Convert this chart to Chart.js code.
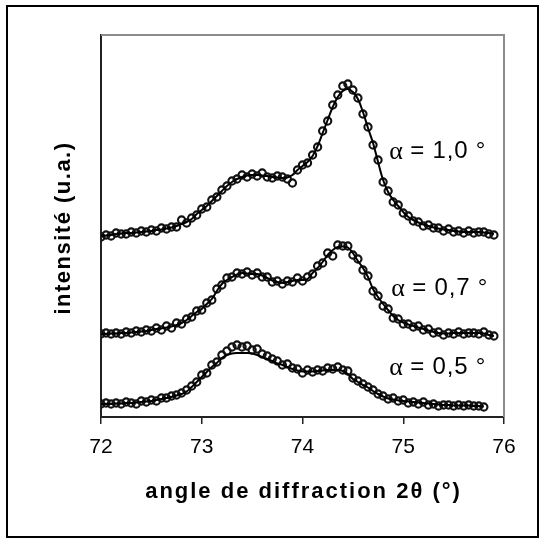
<!DOCTYPE html>
<html>
<head>
<meta charset="utf-8">
<script src="https://cdn.jsdelivr.net/npm/chart.js@4/dist/chart.umd.min.js"></script>
<style>
html,body{margin:0;padding:0;background:#fff;}
canvas{display:block;}
</style>
</head>
<body>
<canvas id="c" width="545" height="549"></canvas>
<script>
// ---- data ----
const xAngles = [72.00,72.05,72.10,72.15,72.20,72.25,72.30,72.35,72.40,72.45,
72.50,72.55,72.60,72.65,72.70,72.75,72.80,72.85,72.90,72.95,
73.00,73.05,73.10,73.15,73.20,73.25,73.30,73.35,73.40,73.45,
73.50,73.55,73.60,73.65,73.70,73.75,73.80,73.85,73.90,73.95,
74.00,74.05,74.10,74.15,74.20,74.25,74.30,74.35,74.40,74.45,
74.50,74.55,74.60,74.65,74.70,74.75,74.80,74.85,74.90,74.95,
75.00,75.05,75.10,75.15,75.20,75.25,75.30,75.35,75.40,75.45,
75.50,75.55,75.60,75.65,75.70,75.75,75.80,75.85,75.90];

const xTicks = [72, 73, 74, 75, 76];

// alpha = 1.0
const fit10 = [181,181.5,182,183,183.5,184,184,184.5,185,185.5,
186,187,187.5,188.5,189.5,191,193,195,198,203,
207,211,216,221,226,231,235,238,240,241.5,
242,242,241.5,241,240,239.5,239,239.5,242,247,
251,255,261,271,284,297,310,320,326,328,
325,318,305,289,274,255,237,225,217,211,
205,200,197,194.5,192.5,191,189.5,188.5,187.5,187,
186,185.5,185,185,185,185,184.5,184,183];
const pts10 = [180,182,181,184,183,183,185,184,186,185,
187,186,189,188,190,190,197,194,199,202,
208,210,217,220,227,231,236,238,242,240,
243,241,244,240,239,241,240,238,234,247,
252,254,262,270,286,296,312,322,331,333,
327,319,303,290,272,257,235,226,215,212,
204,201,196,195,191,192,189,189,186,188,
185,186,184,186,184,185,185,183,182];

// alpha = 0.7
const fit07 = [83,83,83.5,83.5,84,84,84.5,85,85.5,86,
87,88,88.5,89.5,90.5,92,94,97,101,105,
108,113,118,126,133,137,140,142.5,144,143.5,
143,143,141.5,139,136.5,135,134,135,136,137,
137,138,144,149,155,162,167,170,170.5,169.5,
164,156,149,140,128,120,113,107,101,97,
94.5,92.5,91,89.5,88,86.5,85,84,83.5,83.5,
84,84,84,84,84,84,83.5,82,81];
const pts07 = [83,84,83,84,83,85,84,86,85,87,
86,89,87,91,89,94,93,98,100,106,
107,114,117,128,132,139,140,144,143,145,
142,144,140,140,135,136,133,136,135,139,
136,140,143,151,154,164,161,172,171,171,
162,158,147,141,126,121,111,108,99,98,
93,93,90,91,87,88,84,85,82,84,
83,85,83,84,84,83,85,82,81];

// alpha = 0.5 (stops at 75.80)
const fit05 = [13,13,13,13.5,13.5,14,14,14.5,15,15.5,
16,17,18,19,20,21.5,23,25.5,30,35,
40,45,50,54,59,62,63.5,64,64,64,
63.5,62,60,58,56,53.5,52,50,48,46.5,
45.5,45.5,45.5,46,46.5,47,47,47,46,43,
38,35,32,29.5,26,23,20.5,18.5,17.5,16.5,
16,15.5,15,14.5,14,13.5,13,12.5,12,12,
11.5,11.5,11.5,11.5,11,11,10.5];
const pts05 = [13,14,13,14,13,15,14,13,16,15,
17,16,19,19,21,22,24,27,31,35,
42,44,52,55,62,66,70,72,70,71,
67,68,63,61,58,56,52,53,49,48,
44,47,45,47,46,49,48,50,47,46,
39,36,33,30,27,23,21,18,19,16,
17,14,15,13,15,12,13,11,12,12,
11,12,11,12,11,11,10];

const seriesLabels = ['\u03b1 = 1,0 \u00b0', '\u03b1 = 0,7 \u00b0', '\u03b1 = 0,5 \u00b0'];
const xTitle = 'angle de diffraction 2\u03b8 (\u00b0)';
const yTitle = 'intensit\u00e9 (u.a.)';

// ---- build ----
const toXY = ys => ys.map((y, i) => ({x: xAngles[i], y: y}));

const lineDs = (ys) => ({
  data: toXY(ys), showLine: true, borderColor: '#000', borderWidth: 2,
  pointRadius: 0, tension: 0.4, fill: false, order: 1
});
const ptDs = (ys) => ({
  data: toXY(ys), showLine: false, pointRadius: 3.6, pointBorderWidth: 2.1,
  pointBorderColor: '#111', pointBackgroundColor: 'rgba(0,0,0,0)', order: 2
});

// annotation anchors in data units (label left edge, vertical middle)
const annot = [
  {x: 74.86, y: 266},
  {x: 74.88, y: 128.5},
  {x: 74.86, y: 50}
];

const decor = {
  id: 'decor',
  afterDraw(chart) {
    const ctx = chart.ctx;
    const a = chart.chartArea;
    const xs = chart.scales.x, ys = chart.scales.y;
    ctx.save();
    // plot frame top/right (gray)
    ctx.strokeStyle = '#8c8c8c';
    ctx.lineWidth = 2;
    ctx.beginPath();
    ctx.moveTo(a.left, a.top);
    ctx.lineTo(a.right, a.top);
    ctx.lineTo(a.right, a.bottom);
    ctx.stroke();
    // outer frame
    ctx.strokeStyle = '#000';
    ctx.lineWidth = 2;
    ctx.strokeRect(7, 6, 531, 531);
    // axis titles
    ctx.fillStyle = '#000';
    ctx.textAlign = 'center';
    ctx.textBaseline = 'middle';
    ctx.font = 'bold 22px "Liberation Sans", Arial, sans-serif';
    try { ctx.letterSpacing = '2px'; } catch (e) {}
    ctx.fillText(xTitle, (a.left + a.right) / 2 + 1, a.bottom + 75);
    try { ctx.letterSpacing = '1.5px'; } catch (e) {}
    ctx.save();
    ctx.translate(64, (a.top + a.bottom) / 2 + 2);
    ctx.rotate(-Math.PI / 2);
    ctx.fillText(yTitle, 0, 0);
    ctx.restore();
    try { ctx.letterSpacing = '0px'; } catch (e) {}
    // series labels
    ctx.textAlign = 'left';
    annot.forEach((p, i) => {
      const px = xs.getPixelForValue(p.x);
      const py = ys.getPixelForValue(p.y);
      const txt = seriesLabels[i];
      const alpha = txt.charAt(0);
      const rest = txt.slice(1);
      ctx.font = '26px "Liberation Serif", "Times New Roman", serif';
      ctx.fillText(alpha, px, py + 1);
      const w = ctx.measureText(alpha).width;
      ctx.font = '24px "Liberation Sans", Arial, sans-serif';
      try { ctx.letterSpacing = '0.8px'; } catch (e) {}
      ctx.fillText(rest, px + w, py);
      try { ctx.letterSpacing = '0px'; } catch (e) {}
    });
    ctx.restore();
  }
};

new Chart(document.getElementById('c'), {
  type: 'scatter',
  data: {
    datasets: [
      lineDs(fit10), ptDs(pts10),
      lineDs(fit07), ptDs(pts07),
      lineDs(fit05), ptDs(pts05)
    ]
  },
  options: {
    responsive: false,
    animation: false,
    devicePixelRatio: 1,
    layout: {padding: {top: 35, right: 41, left: 0, bottom: 0}},
    plugins: {legend: {display: false}, tooltip: {enabled: false}},
    scales: {
      x: {
        type: 'linear', min: 72, max: 76,
        afterBuildTicks(s) { s.ticks = xTicks.map(v => ({value: v})); },
        ticks: {
          color: '#000', padding: 11,
          font: {family: '"Liberation Sans", Arial, sans-serif', size: 21}
        },
        grid: {drawOnChartArea: false, drawTicks: true, tickLength: 7, color: '#222', lineWidth: 1.5},
        border: {display: true, color: '#222', width: 2},
        afterFit(s) { s.height = 132; }
      },
      y: {
        type: 'linear', min: 0, max: 382,
        ticks: {display: false},
        grid: {display: false},
        border: {display: true, color: '#222', width: 2},
        afterFit(s) { s.width = 101; }
      }
    }
  },
  plugins: [decor]
});
</script>
</body>
</html>
